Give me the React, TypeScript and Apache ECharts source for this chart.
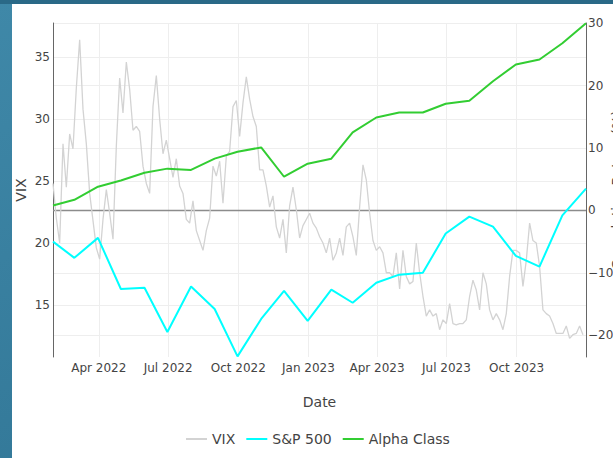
import React, { useEffect, useRef } from 'react';
import * as echarts from 'echarts';

// Monthly (month-end) points for the two return series, in %
const monthEnds = [
  '2022-01-31', '2022-02-28', '2022-03-31', '2022-04-30', '2022-05-31', '2022-06-30',
  '2022-07-31', '2022-08-31', '2022-09-30', '2022-10-31', '2022-11-30', '2022-12-31',
  '2023-01-31', '2023-02-28', '2023-03-31', '2023-04-30', '2023-05-31', '2023-06-30',
  '2023-07-31', '2023-08-31', '2023-09-30', '2023-10-31', '2023-11-30', '2023-12-31',
];
const sp500 = [
  -5.0, -7.6, -4.4, -12.6, -12.4, -19.5, -12.2, -15.8, -23.4, -17.4, -12.9, -17.7,
  -12.7, -14.8, -11.6, -10.3, -10.0, -3.7, -1.0, -2.6, -7.3, -9.0, -0.8, 3.5,
];
const alphaClass = [
  0.8, 1.7, 3.8, 4.8, 6.05, 6.7, 6.5, 8.3, 9.4, 10.1, 5.4, 7.5,
  8.3, 12.5, 14.9, 15.7, 15.7, 17.1, 17.6, 20.7, 23.4, 24.2, 26.8, 30.0,
];

// VIX at a regular step starting 2022-01-31
const vixStart = '2022-01-31';
const vixStepDays = 4.371;
const vix = [
  24.8, 22.0, 20.0, 28.0, 24.5, 28.8, 27.6, 32.5, 36.4, 30.8, 28.0, 24.0, 21.8, 19.6, 18.7, 21.9,
  24.3, 22.4, 20.3, 27.8, 33.3, 30.5, 34.6, 32.4, 29.1, 29.4, 29.0, 26.2, 24.8, 24.0, 31.0, 33.5,
  30.0, 27.2, 28.3, 26.8, 25.3, 26.8, 24.6, 24.0,
  21.9, 21.6, 23.4, 21.0, 20.2, 19.4, 21.0, 22.0, 26.2, 25.4, 26.6, 23.2, 27.0, 27.4, 31.0, 31.5,
  28.6, 31.3, 33.4, 31.6, 30.2, 29.4, 25.9, 25.9, 24.6, 22.9, 23.8, 21.3, 20.4, 21.9, 19.2, 23.0,
  24.5, 22.7, 20.4, 21.4, 21.9, 22.4,
  21.6, 21.2, 20.5, 20.0, 19.2, 20.4, 18.6, 19.2, 20.4, 19.0, 21.3, 21.6, 20.5, 19.0, 22.9, 26.3,
  25.1, 22.4, 20.2, 19.4, 19.7, 19.2, 17.6, 17.6, 17.3, 19.2, 16.3, 19.4, 17.3, 16.7, 16.9, 20.0,
  17.6, 15.7, 14.1, 14.6, 14.1, 14.3, 13.0, 13.8,
  13.5, 15.1, 13.5, 13.4, 13.5, 13.5, 13.8, 15.7, 17.0, 16.2, 14.6, 17.6, 16.7, 14.6, 13.8, 14.3,
  13.8, 13.0, 14.3, 17.3, 19.4, 19.4, 19.2, 16.5, 18.6, 21.6, 20.2, 20.0, 18.1, 14.6, 14.3, 14.1,
  13.5, 12.7, 12.7, 12.7, 13.3, 12.3, 12.6, 12.7, 13.3, 12.6,
];

// Axis ticks
const xTickDates = ['2022-04-01', '2022-07-01', '2022-10-01', '2023-01-01', '2023-04-01', '2023-07-01', '2023-10-01'];
const monthNames = ['Jan', 'Feb', 'Mar', 'Apr', 'May', 'Jun', 'Jul', 'Aug', 'Sep', 'Oct', 'Nov', 'Dec'];
const vixTicks = [15, 20, 25, 30, 35];
const returnTicks = [-20, -10, 0, 10, 20, 30];
const vixRange = [10.8, 37.75];
const returnRange = [-23.5, 30.05];
const xRange = ['2022-01-31', '2023-12-31'];

const FONT = '"DejaVu Sans", Verdana, sans-serif';
const TEXT = '#444';

function parseDay(s: string): number {
  const [y, m, d] = s.split('-').map(Number);
  return new Date(y, m - 1, d).getTime();
}

function buildOption() {
  const dayMs = 86400000;
  const v0 = parseDay(vixStart);
  const vixData = vix.map((v, i) => [v0 + i * vixStepDays * dayMs, v]);
  const spData = monthEnds.map((d, i) => [parseDay(d), sp500[i]]);
  const alphaData = monthEnds.map((d, i) => [parseDay(d), alphaClass[i]]);
  const xMin = parseDay(xRange[0]);
  const xMax = parseDay(xRange[1]);
  const xTicks = xTickDates.map(parseDay);

  return {
    animation: false,
    backgroundColor: 'transparent',
    textStyle: { fontFamily: FONT, color: TEXT },
    grid: {
      left: 53,
      right: 27,
      top: 23,
      bottom: 101,
      containLabel: false,
      outerBoundsMode: 'none',
    },
    legend: {
      data: ['VIX', 'S&P 500', 'Alpha Class'],
      left: 181,
      top: 427,
      icon: 'rect',
      itemWidth: 21,
      itemHeight: 2,
      itemGap: 11,
      textStyle: { fontFamily: FONT, fontSize: 14, color: TEXT },
    },
    xAxis: {
      type: 'value',
      min: xMin,
      max: xMax,
      name: 'Date',
      nameLocation: 'middle',
      nameGap: 38,
      nameMoveOverlap: false,
      nameTextStyle: { fontFamily: FONT, fontSize: 14, color: TEXT },
      axisLine: { show: false },
      axisTick: { show: false, customValues: xTicks },
      axisLabel: {
        customValues: xTicks,
        margin: 5,
        fontFamily: FONT,
        fontSize: 12,
        color: TEXT,
        hideOverlap: false,
        formatter: (val: number) => {
          const d = new Date(val);
          return monthNames[d.getMonth()] + ' ' + d.getFullYear();
        },
      },
      splitLine: { show: true, lineStyle: { color: '#eeeeee', width: 1 } },
    },
    yAxis: [
      {
        type: 'value',
        position: 'left',
        min: vixRange[0],
        max: vixRange[1],
        name: 'VIX',
        nameLocation: 'middle',
        nameGap: 25,
        nameMoveOverlap: false,
        nameTextStyle: { fontFamily: FONT, fontSize: 14, color: TEXT },
        axisLine: { show: true, onZero: false, lineStyle: { color: '#666', width: 1 } },
        axisTick: { show: false, customValues: vixTicks },
        axisLabel: {
          customValues: vixTicks,
          margin: 3,
          fontFamily: FONT,
          fontSize: 12,
          color: TEXT,
        },
        splitLine: { show: true, lineStyle: { color: '#eeeeee', width: 1 } },
      },
      {
        type: 'value',
        position: 'right',
        min: returnRange[0],
        max: returnRange[1],
        name: 'Cumulative Return (%)',
        nameLocation: 'middle',
        nameGap: 24,
        nameMoveOverlap: false,
        nameTextStyle: { fontFamily: FONT, fontSize: 14, color: TEXT },
        axisLine: { show: true, onZero: false, lineStyle: { color: '#666', width: 1 } },
        axisTick: { show: false, customValues: returnTicks },
        axisLabel: {
          customValues: returnTicks,
          margin: 2,
          fontFamily: FONT,
          fontSize: 12,
          color: TEXT,
          formatter: (v: number) => (v < 0 ? '\u2212' + Math.abs(v) : String(v)),
        },
        splitLine: { show: true, lineStyle: { color: '#eeeeee', width: 1 } },
      },
    ],
    series: [
      {
        name: 'zero',
        type: 'line',
        yAxisIndex: 1,
        data: [[xMin, 0], [xMax, 0]],
        symbol: 'none',
        silent: true,
        z: 1,
        lineStyle: { color: '#8c8c8c', width: 1.5 },
        itemStyle: { color: '#8c8c8c' },
      },
      {
        name: 'VIX',
        type: 'line',
        yAxisIndex: 0,
        data: vixData,
        symbol: 'none',
        z: 2,
        lineStyle: { color: '#d3d3d3', width: 1.3 },
        itemStyle: { color: '#d3d3d3' },
      },
      {
        name: 'S&P 500',
        type: 'line',
        yAxisIndex: 1,
        data: spData,
        symbol: 'none',
        z: 3,
        lineStyle: { color: '#00ffff', width: 2 },
        itemStyle: { color: '#00ffff' },
      },
      {
        name: 'Alpha Class',
        type: 'line',
        yAxisIndex: 1,
        data: alphaData,
        symbol: 'none',
        z: 4,
        lineStyle: { color: '#32cd32', width: 2 },
        itemStyle: { color: '#32cd32' },
      },
    ],
  };
}

export default function App() {
  const ref = useRef<HTMLDivElement>(null);
  useEffect(() => {
    if (!ref.current) return;
    const chart = echarts.init(ref.current, null, { renderer: 'svg' });
    chart.setOption(buildOption() as any);
    return () => chart.dispose();
  }, []);
  return (
    <div
      style={{
        position: 'fixed',
        left: 0,
        top: 0,
        width: 613,
        height: 458,
        overflow: 'hidden',
        background: 'linear-gradient(160deg, #3f88a8 0%, #2f7393 100%)',
      }}
    >
      <div style={{ position: 'absolute', left: 0, top: 0, width: 613, height: 4, background: '#2a6987' }} />
      <div style={{ position: 'absolute', left: 12, top: 4, width: 601, height: 454, background: '#ffffff' }} />
      <div ref={ref} style={{ position: 'absolute', left: 0, top: 0, width: 613, height: 458 }} />
    </div>
  );
}
